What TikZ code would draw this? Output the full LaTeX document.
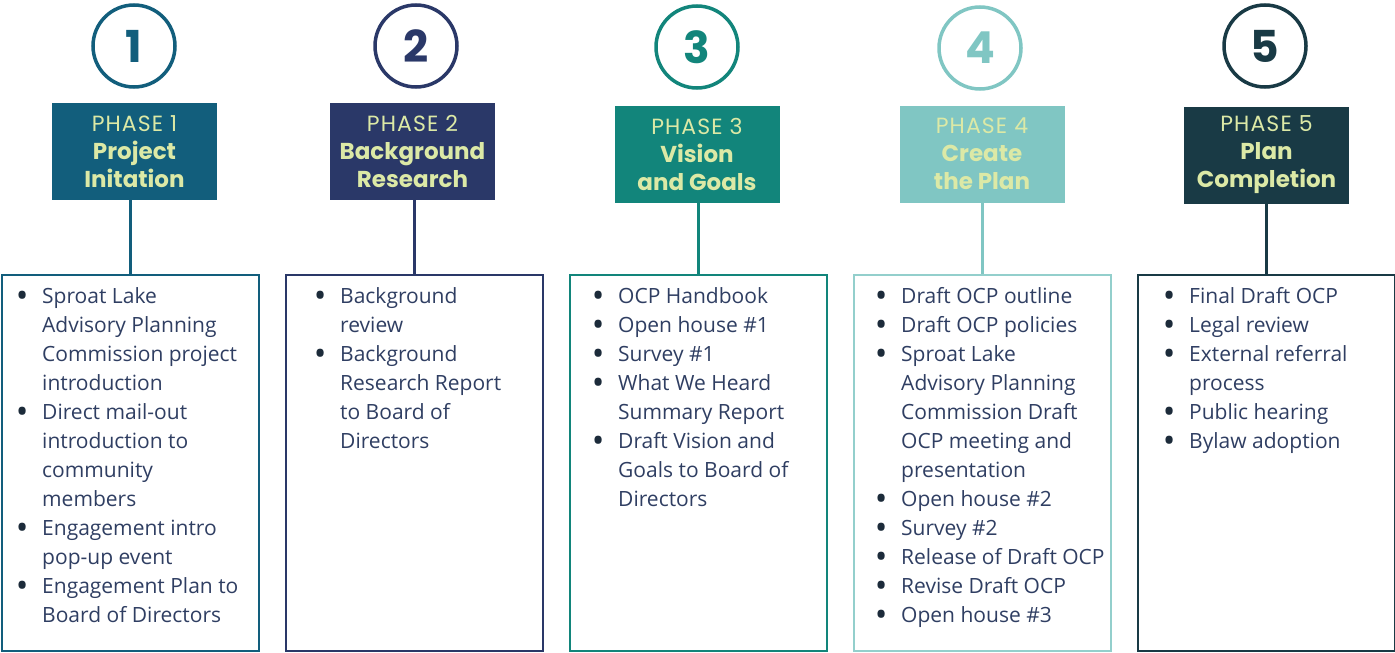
\documentclass[tikz,border=0pt]{standalone}
\usepackage{fontspec}
\usepackage{graphicx}
\setmainfont{Open Sans}
\newfontfamily\headfont{Poppins}
\usetikzlibrary{positioning}
\definecolor{phaseA}{HTML}{125E7C}
\definecolor{phaseB}{HTML}{2A3868}
\definecolor{phaseC}{HTML}{12857B}
\definecolor{phaseD}{HTML}{80C6C3}
\definecolor{phaseE}{HTML}{193A45}
\definecolor{headtext}{HTML}{DCE9A6}
\definecolor{itemtext}{HTML}{2F3E62}
\definecolor{bulletcol}{HTML}{1C2B3A}
\tikzset{
  numcirc/.style={circle,draw=#1,line width=3.5pt,minimum size=82pt,inner sep=0,
    text=#1,font=\headfont\bfseries\fontsize{44}{44}\selectfont},
  phasebox/.style={fill=#1,minimum width=165pt,minimum height=97pt,inner sep=0,
    align=center,text=headtext,font=\headfont\fontsize{21}{28}\selectfont},
  listbox/.style={draw=#1,line width=2pt,minimum width=257pt,minimum height=376pt,inner sep=0},
  link/.style={draw=#1,line width=3pt},
  items/.style={anchor=north west,inner sep=0,text=itemtext,font=\fontsize{21}{29}\selectfont},
}
\newcommand\pfont{\fontsize{22}{28}\selectfont\addfontfeatures{LetterSpace=5}}
\newcommand\tfont{\bfseries\fontsize{23}{28}\selectfont}
\newcommand\bul{\makebox[0pt]{\raisebox{-4.2pt}{\scalebox{1.6}{\textcolor{bulletcol}{\textbullet}}}}}
\newenvironment{phaselist}{\begin{tabular}{@{}l@{\hspace{20pt}}l@{}}}{\end{tabular}}
\begin{document}
\begin{tikzpicture}[x=1pt,y=-1pt]
\useasboundingbox (0,0) rectangle (1395,653);
% numbers
\node[numcirc=phaseA] (n1) at (134,46) {1};
\node[numcirc=phaseB] (n2) at (416,46) {2};
\node[numcirc=phaseC] (n3) at (697,47) {3};
\node[numcirc=phaseD] (n4) at (980,48) {4};
\node[numcirc=phaseE] (n5) at (1265,46) {5};
% phase titles
\node[phasebox=phaseA] (h1) at (134.5,151.5) {\pfont PHASE 1\\\tfont Project\\\tfont Initation};
\node[phasebox=phaseB] (h2) at (412.5,151.5) {\pfont PHASE 2\\\tfont Background\\\tfont Research};
\node[phasebox=phaseC] (h3) at (697,154) {\pfont PHASE 3\\\tfont Vision\\\tfont and Goals};
\node[phasebox=phaseD] (h4) at (982,154) {\pfont PHASE 4\\\tfont Create\\\tfont the Plan};
\node[phasebox=phaseE] (h5) at (1266.5,155) {\pfont PHASE 5\\\tfont Plan\\\tfont Completion};
% boxes
\node[listbox=phaseA] (l1) at (130.5,463) {};
\node[listbox=phaseB] (l2) at (414.5,463) {};
\node[listbox=phaseC] (l3) at (698.5,463) {};
\node[listbox=phaseD!85!white] (l4) at (982.5,463) {};
\node[listbox=phaseE] (l5) at (1266,463) {};
\draw[link=phaseA] (l1.north |- h1.south) -- (l1.north);
\draw[link=phaseB] (l2.north |- h2.south) -- (l2.north);
\draw[link=phaseC] (l3.north |- h3.south) -- (l3.north);
\draw[link=phaseD] (l4.north |- h4.south) -- (l4.north);
\draw[link=phaseE] (l5.north |- h5.south) -- (l5.north);
% lists
\node[items] (t1) at (22,282.7) {\begin{phaselist}
\bul & Sproat Lake\\
 & Advisory Planning\\
 & Commission project\\
 & introduction\\
\bul & Direct mail-out\\
 & introduction to\\
 & community\\
 & members\\
\bul & Engagement intro\\
 & pop-up event\\
\bul & Engagement Plan to\\
 & Board of Directors
\end{phaselist}};
\node[items] (t2) at (320,282.7) {\begin{phaselist}
\bul & Background\\
 & review\\
\bul & Background\\
 & Research Report\\
 & to Board of\\
 & Directors
\end{phaselist}};
\node[items] (t3) at (598,282.7) {\begin{phaselist}
\bul & OCP Handbook\\
\bul & Open house \#1\\
\bul & Survey \#1\\
\bul & What We Heard\\
 & Summary Report\\
\bul & Draft Vision and\\
 & Goals to Board of\\
 & Directors
\end{phaselist}};
\node[items] (t4) at (881,282.7) {\begin{phaselist}
\bul & Draft OCP outline\\
\bul & Draft OCP policies\\
\bul & Sproat Lake\\
 & Advisory Planning\\
 & Commission Draft\\
 & OCP meeting and\\
 & presentation\\
\bul & Open house \#2\\
\bul & Survey \#2\\
\bul & Release of Draft OCP\\
\bul & Revise Draft OCP\\
\bul & Open house \#3
\end{phaselist}};
\node[items] (t5) at (1169,282.7) {\begin{phaselist}
\bul & Final Draft OCP\\
\bul & Legal review\\
\bul & External referral\\
 & process\\
\bul & Public hearing\\
\bul & Bylaw adoption
\end{phaselist}};
\end{tikzpicture}
\end{document}
